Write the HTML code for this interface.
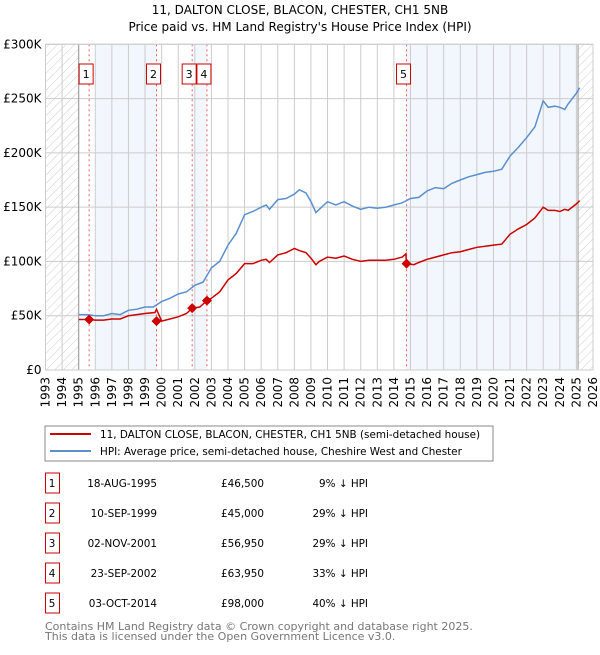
<!DOCTYPE html>
<html><head><meta charset="utf-8"><style>
body{margin:0;background:#fff;font-family:"Liberation Sans","DejaVu Sans",sans-serif}
svg text{font-family:"DejaVu Sans","Liberation Sans",sans-serif}
</style></head><body>
<svg id="c" width="600" height="650" xmlns="http://www.w3.org/2000/svg">
<defs><pattern id="hatch" width="6" height="6" patternUnits="userSpaceOnUse" patternTransform="rotate(45)"><line x1="0" y1="0" x2="0" y2="6" stroke="#ccc" stroke-width="1"/></pattern></defs>
<text x="300" y="14" text-anchor="middle" font-size="12">11, DALTON CLOSE, BLACON, CHESTER, CH1 5NB</text>
<text x="300" y="31" text-anchor="middle" font-size="12">Price paid vs. HM Land Registry's House Price Index (HPI)</text>
<g id="plot"></g>
<rect x="45" y="426" width="448" height="35" fill="#fff" stroke="#888"/>
<line x1="50" y1="434" x2="91" y2="434" stroke="#cc0000" stroke-width="2"/>
<text x="100" y="438" font-size="10.4">11, DALTON CLOSE, BLACON, CHESTER, CH1 5NB (semi-detached house)</text>
<line x1="50" y1="451" x2="91" y2="451" stroke="#5b8fd0" stroke-width="2"/>
<text x="100" y="455" font-size="10.4">HPI: Average price, semi-detached house, Cheshire West and Chester</text>
<g id="table"></g>
<text x="45" y="630" font-size="11" fill="#777">Contains HM Land Registry data © Crown copyright and database right 2025.</text>
<text x="45" y="640" font-size="11" fill="#777">This data is licensed under the Open Government Licence v3.0.</text>
</svg>
<script>
const hpiX=[1995,1995.5,1996,1996.5,1997,1997.5,1998,1998.5,1999,1999.5,2000,2000.5,2001,2001.5,2002,2002.5,2003,2003.5,2004,2004.5,2005,2005.5,2006,2006.3,2006.5,2007,2007.5,2008,2008.3,2008.7,2009,2009.3,2009.5,2010,2010.5,2011,2011.5,2012,2012.5,2013,2013.5,2014,2014.5,2015,2015.5,2016,2016.5,2017,2017.5,2018,2018.5,2019,2019.5,2020,2020.5,2021,2021.5,2022,2022.5,2023,2023.3,2023.7,2024,2024.3,2024.5,2025,2025.2];
const hpiY=[51,51,50,50,52,51,55,56,58,58,63,66,70,72,78,81,94,100,115,126,143,146,150,152,148,157,158,162,166,163,155,145,148,155,152,155,151,148,150,149,150,152,154,158,159,165,168,167,172,175,178,180,182,183,185,197,205,214,224,248,242,243,242,240,245,255,260];
const priceX=[1995,1995.63,1996,1996.5,1997,1997.5,1998,1998.5,1999,1999.6,1999.69,2000,2000.5,2001,2001.5,2001.84,2002.3,2002.73,2003,2003.5,2004,2004.5,2005,2005.5,2006,2006.3,2006.5,2007,2007.5,2008,2008.3,2008.7,2009,2009.3,2009.5,2010,2010.5,2011,2011.5,2012,2012.5,2013,2013.5,2014,2014.5,2014.72,2014.76,2015.2,2015.5,2016,2016.5,2017,2017.5,2018,2018.5,2019,2019.5,2020,2020.5,2021,2021.5,2022,2022.5,2023,2023.3,2023.7,2024,2024.3,2024.5,2025,2025.2];
const priceY=[46.5,46.5,46,46,47,47,50,51,52,53,56,45,47,49,52,56.95,58,63.95,66,72,83,89,98,98,101,102,99,106,108,112,110,108,103,97,100,104,103,105,102,100,101,101,101,102,104,107,98,97,99,102,104,106,108,109,111,113,114,115,116,125,130,134,140,150,147,147,146,148,147,153,156];
const saleX=[1995.63,1999.69,2001.84,2002.73,2014.76];
const saleY=[46.5,45,56.95,63.95,98];
const saleLabels=["1","2","3","4","5"];
const saleDates=["18-AUG-1995","10-SEP-1999","02-NOV-2001","23-SEP-2002","03-OCT-2014"];
const salePrices=["£46,500","£45,000","£56,950","£63,950","£98,000"];
const salePct=["9% ↓ HPI","29% ↓ HPI","29% ↓ HPI","33% ↓ HPI","40% ↓ HPI"];
const yTicks=[0,50,100,150,200,250,300];
const yTickLabels=["£0","£50K","£100K","£150K","£200K","£250K","£300K"];
const years=[];for(let y=1993;y<=2026;y++)years.push(y);

const NS="http://www.w3.org/2000/svg";
const L=45.5,R=593,T=44.3,B=370;
const X=v=>L+(v-1993)*(R-L)/33;
const Y=v=>B-v*(B-T)/300;
function mk(tag,at,parent){const e=document.createElementNS(NS,tag);for(const k in at)e.setAttribute(k,at[k]);parent.appendChild(e);return e;}
const g=document.getElementById('plot');
const bands=[[1996,saleX[1]],[saleX[2],saleX[3]],[saleX[4],2025.1]];
bands.forEach((b,i)=>{const r=mk('rect',{x:X(b[0]),y:T,width:X(b[1])-X(b[0]),height:B-T,fill:'#eef3fc',opacity:0.75},g);

});
[[1993,1995],[2025.1,2026]].forEach((b,i)=>{const r=mk('rect',{x:X(b[0]),y:T,width:X(b[1])-X(b[0]),height:B-T,fill:'url(#hatch)'},g);

});
years.forEach(y=>{const l=mk('line',{x1:X(y),x2:X(y),y1:T,y2:B,stroke:'#ccc','stroke-width':1},g);


const t=mk('text',{x:0,y:0,'font-size':12,'text-anchor':'end',transform:`translate(${X(y)+4},${B+7}) rotate(-90)`},g);t.textContent=y;

});
yTicks.forEach((v,i)=>{const l=mk('line',{x1:L,x2:R,y1:Y(v),y2:Y(v),stroke:'#ccc','stroke-width':1},g);


const t=mk('text',{x:L-4,y:Y(v)+4,'font-size':12,'text-anchor':'end'},g);t.textContent=yTickLabels[i];

});
[1995,2025.1].forEach(a=>{const l=mk('line',{x1:X(a),x2:X(a),y1:T,y2:B,stroke:'#999','stroke-width':1},g);

});
saleX.forEach((s,i)=>{const l=mk('line',{x1:X(s),x2:X(s),y1:T,y2:B,stroke:'#f06060','stroke-width':1,'stroke-dasharray':'2,3'},g);

});
const pts=(xs,ys)=>xs.map((x,i)=>X(x).toFixed(1)+','+Y(ys[i]).toFixed(1)).join(' ');
const hl=mk('polyline',{points:pts(hpiX,hpiY),fill:'none',stroke:'#5b8fd0','stroke-width':1.5},g);


const pl=mk('polyline',{points:pts(priceX,priceY),fill:'none',stroke:'#cc0000','stroke-width':1.5},g);


saleX.forEach((s,i)=>{const cx=X(s),cy=Y(saleY[i]);
const d=mk('path',{d:`M${cx},${cy-5}L${cx+5},${cy}L${cx},${cy+5}L${cx-5},${cy}Z`,fill:'#cc0000'},g);


const bx=cx-10;
const r=mk('rect',{x:bx,y:64,width:14,height:20,fill:'#fff',stroke:'#cc0000'},g);


const t=mk('text',{x:bx+7,y:78,'font-size':11,'text-anchor':'middle'},g);t.textContent=saleLabels[i];

});
mk('rect',{x:L,y:T,width:R-L,height:B-T,fill:'none',stroke:'#ccc'},g);
const tb=document.getElementById('table');
saleLabels.forEach((lab,i)=>{const cy=483+i*30;
const r=mk('rect',{x:45.5,y:cy-10,width:14,height:20,fill:'#fff',stroke:'#cc0000'},tb);


const cols=[[52,lab,'middle'],[157,saleDates[i],'end'],[264,salePrices[i],'end'],[368,salePct[i],'end']];
cols.forEach((c,j)=>{const t=mk('text',{x:c[0],y:cy+4,'font-size':10.4,'text-anchor':c[2]},tb);t.textContent=c[1];

});});
</script>
</body></html>
